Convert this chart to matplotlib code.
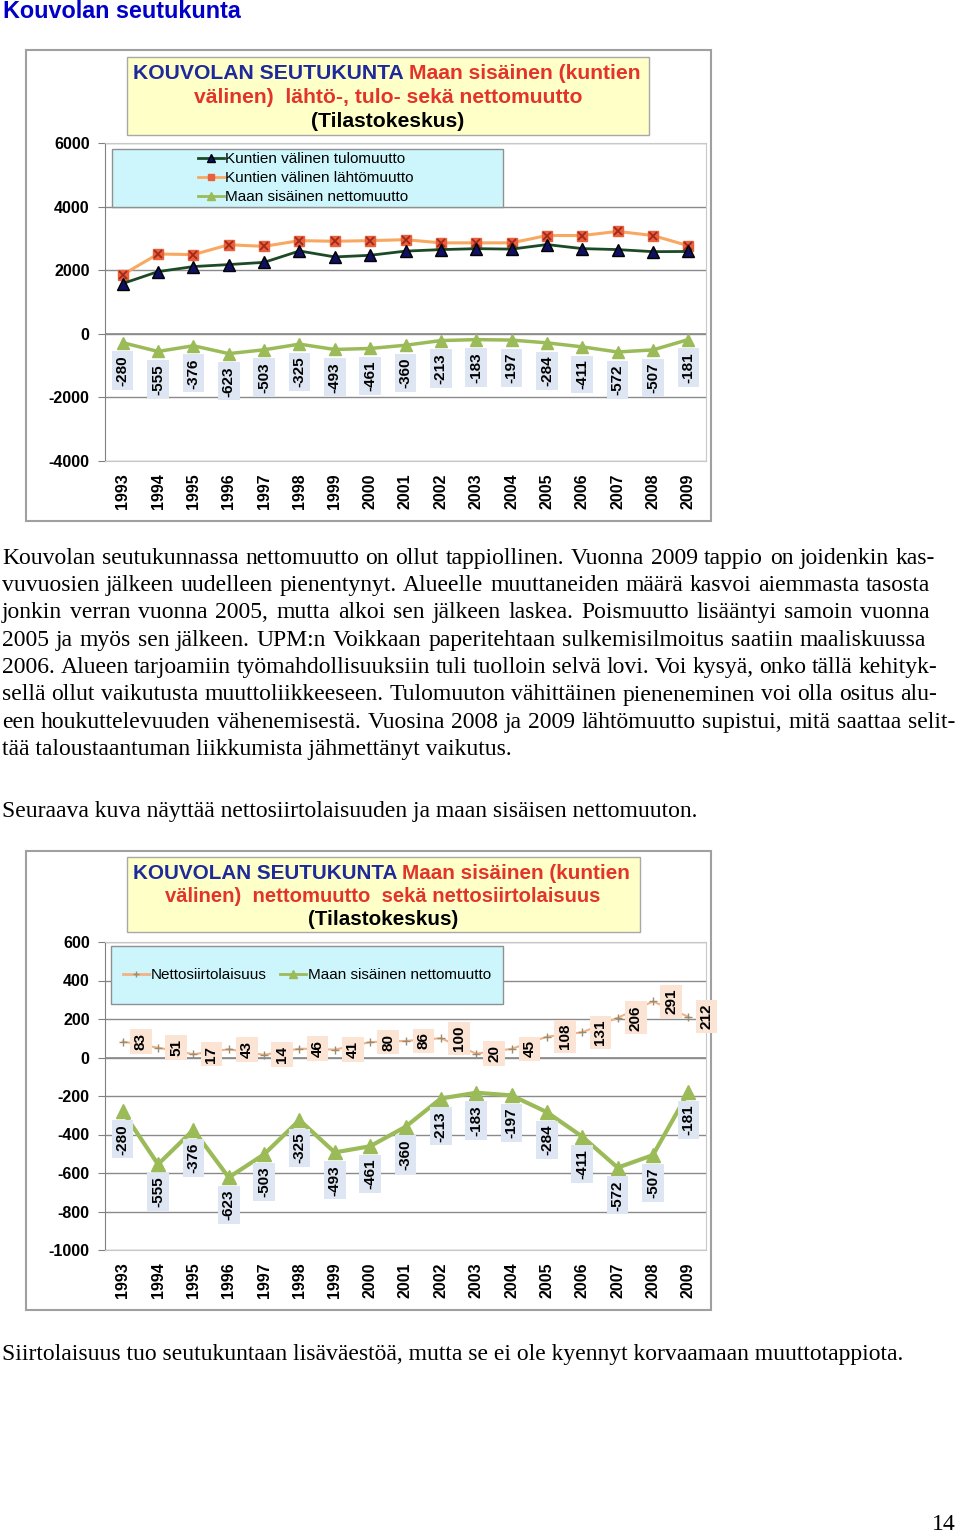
import numpy as np
import matplotlib
matplotlib.use("Agg")
from matplotlib import pyplot as plt
from matplotlib.patches import Rectangle
from matplotlib.lines import Line2D

matplotlib.rcParams['font.family'] = ['Liberation Sans', 'DejaVu Sans']
matplotlib.rcParams['axes.unicode_minus'] = False

years = [str(y) for y in range(1993, 2010)]
tulomuutto = [1580, 1955, 2114, 2177, 2247, 2605, 2417, 2469, 2600, 2647, 2677, 2663, 2806, 2679, 2648, 2583, 2589]
lahtomuutto = [1860, 2510, 2490, 2800, 2750, 2930, 2910, 2930, 2960, 2860, 2860, 2860, 3090, 3090, 3220, 3090, 2770]
nettomuutto = [-280, -555, -376, -623, -503, -325, -493, -461, -360, -213, -183, -197, -284, -411, -572, -507, -181]
nettosiirtolaisuus = [83, 51, 17, 43, 14, 46, 41, 80, 86, 100, 20, 45, 108, 131, 206, 291, 212]

para1 = [
    "Kouvolan seutukunnassa nettomuutto on ollut tappiollinen. Vuonna 2009 tappio on joidenkin kas-",
    "vuvuosien jälkeen uudelleen pienentynyt. Alueelle muuttaneiden määrä kasvoi aiemmasta tasosta",
    "jonkin verran vuonna 2005, mutta alkoi sen jälkeen laskea. Poismuutto lisääntyi samoin vuonna",
    "2005 ja myös sen jälkeen. UPM:n Voikkaan paperitehtaan sulkemisilmoitus saatiin maaliskuussa",
    "2006. Alueen tarjoamiin työmahdollisuuksiin tuli tuolloin selvä lovi. Voi kysyä, onko tällä kehityk-",
    "sellä ollut vaikutusta muuttoliikkeeseen. Tulomuuton vähittäinen pieneneminen voi olla ositus alu-",
    "een houkuttelevuuden vähenemisestä. Vuosina 2008 ja 2009 lähtömuutto supistui, mitä saattaa selit-",
    "tää taloustaantuman liikkumista jähmettänyt vaikutus.",
]
para2 = "Seuraava kuva näyttää nettosiirtolaisuuden ja maan sisäisen nettomuuton."
para3 = "Siirtolaisuus tuo seutukuntaan lisäväestöä, mutta se ei ole kyennyt korvaamaan muuttotappiota."

W, H = 960, 1536
fig = plt.figure(figsize=(W / 100, H / 100), dpi=100)
renderer = fig.canvas.get_renderer()


def px(x, y):
    return x / W, 1 - y / H


def rect(x0, y0, x1, y1, **kw):
    r = Rectangle(px(x0, y1), (x1 - x0) / W, (y1 - y0) / H, transform=fig.transFigure, **kw)
    fig.patches.append(r)
    return r


def chain(x, y, parts, size, center=None):
    # place coloured text pieces one after another on the same baseline
    ts = [fig.text(0, 0, s, color=c, fontsize=size, fontweight='bold', va='baseline', zorder=6)
          for s, c in parts]
    ws = [t.get_window_extent(renderer).width for t in ts]
    if center is not None:
        x = center - sum(ws) / 2
    for t, w in zip(ts, ws):
        t.set_position(px(x, y))
        x += w


serif = dict(family=['Liberation Serif', 'DejaVu Serif'], fontsize=17, va='baseline')
right_edges = [935, 930, 930, 926, 937, 937, 955]


def justify(line, y, left, right):
    words = line.split(' ')
    ts = [fig.text(0, 0, w, **serif) for w in words]
    ws = [t.get_window_extent(renderer).width for t in ts]
    gap = (right - left - sum(ws)) / (len(words) - 1)
    x = left
    for t, w in zip(ts, ws):
        t.set_position(px(x, y))
        x += w + gap


def frame(ax, ylim, step):
    ax.set_xlim(-0.5, len(years) - 0.5)
    ax.set_ylim(*ylim)
    ax.set_yticks(np.arange(ylim[0], ylim[1] + 1, step))
    ax.set_xticks(range(len(years)))
    ax.set_xticklabels(years, rotation=90, fontsize=11.5, fontweight='bold')
    for lab in ax.get_yticklabels():
        lab.set_fontweight('bold')
        lab.set_fontsize(11.5)
    ax.tick_params(axis='x', length=0, pad=9)
    ax.tick_params(axis='y', length=5, color='#808080', pad=6)
    ax.grid(axis='y', color='#8a8a8a', lw=1)
    ax.set_axisbelow(True)
    for s in ['top', 'right', 'bottom']:
        ax.spines[s].set_color('#c8c8c8')
    ax.spines['left'].set_color('#808080')
    ax.axhline(0, color='#8a8a8a', lw=1.2, zorder=1)


x = np.arange(len(years))
lab_kw = dict(textcoords='offset points', rotation=90, fontsize=11, fontweight='bold', zorder=6)

# ---------------- heading ----------------
fig.text(*px(3, 18), "Kouvolan seutukunta", color='#0000c8', fontsize=16.8, fontweight='bold', va='baseline')

# ---------------- chart 1 ----------------
rect(26, 50, 711, 521, facecolor='white', edgecolor='#a0a0a0', lw=1.5, zorder=0)
ax1 = fig.add_axes([105 / W, 1 - 461 / H, 601 / W, 318 / H], zorder=1)
frame(ax1, (-4000, 6000), 2000)
ax1.plot(x, lahtomuutto, color='#f8a860', lw=2.2, marker='s', ms=7, mfc='#e8603c', mec='#e8603c', zorder=3)
ax1.plot(x, lahtomuutto, ls='none', marker='x', ms=6, mew=1.3, color='#a02818', zorder=4)
ax1.plot(x, tulomuutto, color='#1c4a26', lw=2, marker='^', ms=9, mfc='#101060', mec='#000000', zorder=5)
ax1.plot(x, nettomuutto, color='#9bbb59', lw=2.5, marker='^', ms=9, mfc='#9bbb59', mec='#9bbb59', zorder=3)
for i, v in enumerate(nettomuutto):
    ax1.annotate(str(v), (i, v), xytext=(0, -9), ha='center', va='top',
                 bbox=dict(boxstyle='square,pad=0.25', fc='#dde6f2', ec='none'), **lab_kw)

rect(127, 57, 649, 135, facecolor='#ffffc8', edgecolor='#a8a8a8', lw=1, zorder=2)
chain(133, 79, [("KOUVOLAN SEUTUKUNTA ", '#1e2a9c'), ("Maan sisäinen (kuntien", '#e2342a')], 15.2)
chain(0, 103, [("välinen)  lähtö-, tulo- sekä nettomuutto", '#e2342a')], 15.2, center=388)
chain(0, 127, [("(Tilastokeskus)", '#000000')], 15.2, center=388)

rect(112, 149, 503, 207, facecolor='#ccf6fb', edgecolor='#909090', lw=1, zorder=2)
h1 = [Line2D([], [], color='#1c4a26', lw=2, marker='^', ms=6, mfc='#101060', mec='#000000'),
      Line2D([], [], color='#f8a860', lw=2, marker='s', ms=5, mfc='#e8603c', mec='#e8603c'),
      Line2D([], [], color='#9bbb59', lw=2, marker='^', ms=6, mfc='#9bbb59', mec='#9bbb59')]
leg1 = fig.legend(h1, ["Kuntien välinen tulomuutto", "Kuntien välinen lähtömuutto", "Maan sisäinen nettomuutto"],
                  loc='center left', bbox_to_anchor=px(190, 178), frameon=False, fontsize=11,
                  handlelength=1.7, handletextpad=0.1, labelspacing=0.32, borderpad=0)
leg1.set_zorder(7)

# ---------------- text ----------------
base = [564, 591, 618.5, 646, 673, 700.5, 728, 755]
for i, line in enumerate(para1):
    if i < len(para1) - 1:
        justify(line, base[i], 2, right_edges[i])
    else:
        fig.text(*px(2, base[i]), line, **serif)
fig.text(*px(2, 817), para2, **serif)

# ---------------- chart 2 ----------------
rect(26, 851, 711, 1310, facecolor='white', edgecolor='#a0a0a0', lw=1.5, zorder=0)
ax2 = fig.add_axes([105 / W, 1 - 1250 / H, 601 / W, 308 / H], zorder=1)
frame(ax2, (-1000, 600), 200)
ax2.plot(x, nettosiirtolaisuus, color='#f4b183', lw=1.5, marker='+', ms=6, mec='#9a8c70', zorder=3)
ax2.plot(x, nettomuutto, color='#9bbb59', lw=3, marker='^', ms=10, mfc='#9bbb59', mec='#9bbb59', zorder=3)
for i, v in enumerate(nettosiirtolaisuus):
    ax2.annotate(str(v), (i, v), xytext=(8, 0), ha='left', va='center',
                 bbox=dict(boxstyle='square,pad=0.25', fc='#fbe4d4', ec='none'), **lab_kw)
for i, v in enumerate(nettomuutto):
    ax2.annotate(str(v), (i, v), xytext=(0, -9), ha='center', va='top',
                 bbox=dict(boxstyle='square,pad=0.25', fc='#dde6f2', ec='none'), **lab_kw)

rect(127, 857, 640, 932, facecolor='#ffffc8', edgecolor='#a8a8a8', lw=1, zorder=2)
chain(133, 879, [("KOUVOLAN SEUTUKUNTA ", '#1e2a9c'), ("Maan sisäinen (kuntien", '#e2342a')], 14.9)
chain(0, 902, [("välinen)  nettomuutto  sekä nettosiirtolaisuus", '#e2342a')], 14.6, center=383)
chain(0, 925, [("(Tilastokeskus)", '#000000')], 14.9, center=383)

rect(111, 946, 503, 1004, facecolor='#ccf6fb', edgecolor='#909090', lw=1, zorder=2)
h2 = [Line2D([], [], color='#f4b183', lw=2, marker='+', ms=5, mec='#9a8c70'),
      Line2D([], [], color='#9bbb59', lw=2, marker='^', ms=6, mfc='#9bbb59', mec='#9bbb59')]
leg2 = fig.legend(h2, ["Nettosiirtolaisuus", "Maan sisäinen nettomuutto"], ncol=2,
                  loc='center', bbox_to_anchor=px(307, 975), frameon=False, fontsize=11,
                  handlelength=1.7, handletextpad=0.1, columnspacing=0.9, borderpad=0)
leg2.set_zorder(7)

fig.text(*px(2, 1360), para3, **serif)
fig.text(*px(956, 1530), "14", ha='right', **serif)

fig.savefig("out.png", dpi=100)
